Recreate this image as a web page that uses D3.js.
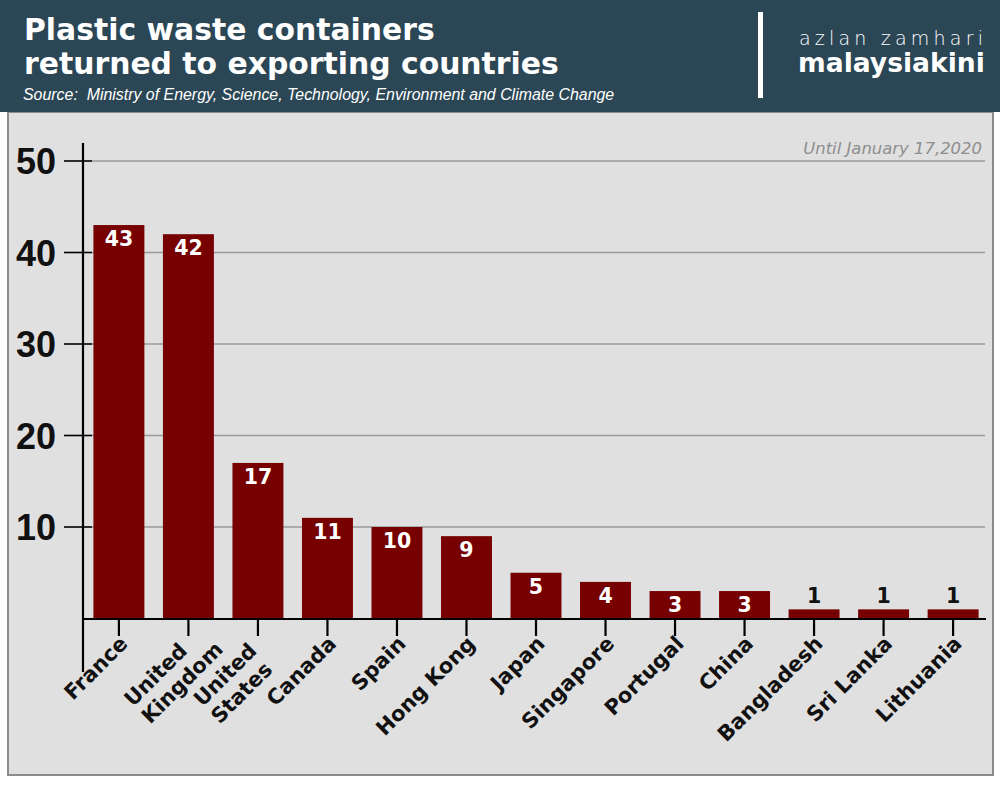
<!DOCTYPE html>
<html><head><meta charset="utf-8">
<script src="https://cdn.jsdelivr.net/npm/d3@7/dist/d3.min.js"></script>
<style>
html,body{margin:0;padding:0;background:#fff;}
svg{display:block;}
text{white-space:pre;}
</style></head>
<body>
<svg id="chart" width="1000" height="796"></svg>
<script>
const categories = ["France","United\nKingdom","United\nStates","Canada","Spain","Hong Kong","Japan","Singapore","Portugal","China","Bangladesh","Sri Lanka","Lithuania"];
const values = [43,42,17,11,10,9,5,4,3,3,1,1,1];
const yTicks = [10,20,30,40,50];
const titleLines = ["Plastic waste containers","returned to exporting countries"];
const sourceText = "Source:  Ministry of Energy, Science, Technology, Environment and Climate Change";
const noteText = "Until January 17,2020";
const brandTop = "azlan zamhari";
const brandBottom = "malaysiakini";

const svg = d3.select("#chart");
const geo = "'DejaVu Sans', Lato, sans-serif";

function fit(sel, target){
  const fs = parseFloat(sel.attr("font-size"));
  const w = sel.node().getComputedTextLength();
  sel.attr("font-size", fs*target/w);
  return fs*target/w;
}

// header & panel
svg.append("rect").attr("x",8).attr("y",112).attr("width",985).attr("height",663)
  .attr("fill","#e0e0e0").attr("stroke","#8c8c8c").attr("stroke-width",2);
svg.append("rect").attr("x",0).attr("y",0).attr("width",1000).attr("height",112).attr("fill","#2b4655");

const t2 = svg.append("text").attr("x",24).attr("y",74).text(titleLines[1])
  .attr("fill","#fff").attr("font-family",geo).attr("font-weight",700).attr("font-size",28);
const tfs = fit(t2, 535);
svg.append("text").attr("x",24).attr("y",40).text(titleLines[0])
  .attr("fill","#fff").attr("font-family",geo).attr("font-weight",700).attr("font-size",tfs);

const src = svg.append("text").attr("x",23).attr("y",100).text(sourceText)
  .attr("fill","#fff").attr("font-family","'Liberation Sans', Arial, sans-serif").attr("font-style","italic").attr("font-size",15);
fit(src, 592);

svg.append("rect").attr("x",758).attr("y",12).attr("width",5).attr("height",86).attr("fill","#fff");
svg.append("text").attr("x",799).attr("y",45).text(brandTop)
  .attr("fill","#fff").attr("font-family",geo).attr("font-weight",200).attr("font-size",19).attr("letter-spacing",4.2);
const bb = svg.append("text").attr("x",798).attr("y",72).text(brandBottom)
  .attr("fill","#fff").attr("font-family",geo).attr("font-weight",700).attr("font-size",28);
fit(bb, 187);

const note = svg.append("text").attr("x",982).attr("y",154).attr("text-anchor","end").text(noteText)
  .attr("fill","#8e8e8e").attr("font-family",geo).attr("font-style","italic").attr("font-size",15);
fit(note, 179);

// scales
const x = d3.scaleBand().domain(categories).range([83,989]).paddingInner(0.267).paddingOuter(0.15);
const y = d3.scaleLinear().domain([0,50]).range([618.5,161]);

// gridlines
svg.append("g").selectAll("line").data(yTicks).join("line")
  .attr("x1",92).attr("x2",985).attr("y1",d=>y(d)).attr("y2",d=>y(d))
  .attr("stroke","#9a9a9a").attr("stroke-width",1.3);

// bars
svg.append("g").selectAll("rect").data(values).join("rect")
  .attr("x",(d,i)=>x(categories[i])).attr("width",x.bandwidth())
  .attr("y",d=>y(d)).attr("height",d=>y(0)-y(d)).attr("fill","#770000");

// y axis
const yAxis = d3.axisLeft(y).tickValues(yTicks).tickSize(0).tickPadding(0);
const ya = svg.append("g").call(yAxis);
ya.select(".domain").remove();
ya.selectAll(".tick line").remove();
ya.selectAll(".tick text").attr("x",56).attr("dy","0.36em")
  .attr("font-family","'Liberation Sans', Arial, sans-serif").attr("font-weight",700).attr("font-size",36).attr("fill","#111");
svg.append("g").selectAll("line").data(yTicks).join("line")
  .attr("x1",64).attr("x2",92).attr("y1",d=>y(d)).attr("y2",d=>y(d)).attr("stroke","#000").attr("stroke-width",1.6);
svg.append("line").attr("x1",83).attr("x2",83).attr("y1",143).attr("y2",672).attr("stroke","#000").attr("stroke-width",2.2);

// x axis
const xAxis = d3.axisBottom(x).tickSize(0).tickFormat("");
const xa = svg.append("g").attr("transform",`translate(0,${y(0)})`).call(xAxis);
xa.select(".domain").remove();
svg.append("line").attr("x1",82).attr("x2",986).attr("y1",619).attr("y2",619).attr("stroke","#000").attr("stroke-width",2.2);
svg.append("g").selectAll("line").data(categories).join("line")
  .attr("x1",d=>x(d)+x.bandwidth()/2).attr("x2",d=>x(d)+x.bandwidth()/2)
  .attr("y1",619).attr("y2",636).attr("stroke","#000").attr("stroke-width",2.2);

// x labels
const lab = svg.append("g").selectAll("text").data(categories).join("text")
  .attr("font-family",geo).attr("font-weight",700).attr("font-size",21).attr("fill","#111");
lab.each(function(d){
  const el = d3.select(this);
  const lines = d.split("\n");
  lines.forEach((l,i)=> el.append("tspan").text(l));
  const w1 = el.select("tspan").node().getComputedTextLength();
  el.selectAll("tspan").attr("x",-w1).attr("dy",(l,i)=> i===0?0:"1.16em");
  const cx = x(d)+x.bandwidth()/2;
  const multi = lines.length>1;
  const ax = multi? cx : cx+10;
  const ay = multi? 652 : 645;
  el.attr("transform",`translate(${ax},${ay}) rotate(-45)`);
});

// value labels
svg.append("g").selectAll("text").data(values).join("text")
  .attr("x",(d,i)=>x(categories[i])+x.bandwidth()/2)
  .attr("y",d=> (y(0)-y(d))<25 ? y(d)-6 : y(d)+21)
  .attr("text-anchor","middle")
  .attr("fill",d=> (y(0)-y(d))<25 ? "#111" : "#fff")
  .attr("font-family",geo).attr("font-weight",700).attr("font-size",20.5)
  .text(d=>d);
</script>
</body></html>
